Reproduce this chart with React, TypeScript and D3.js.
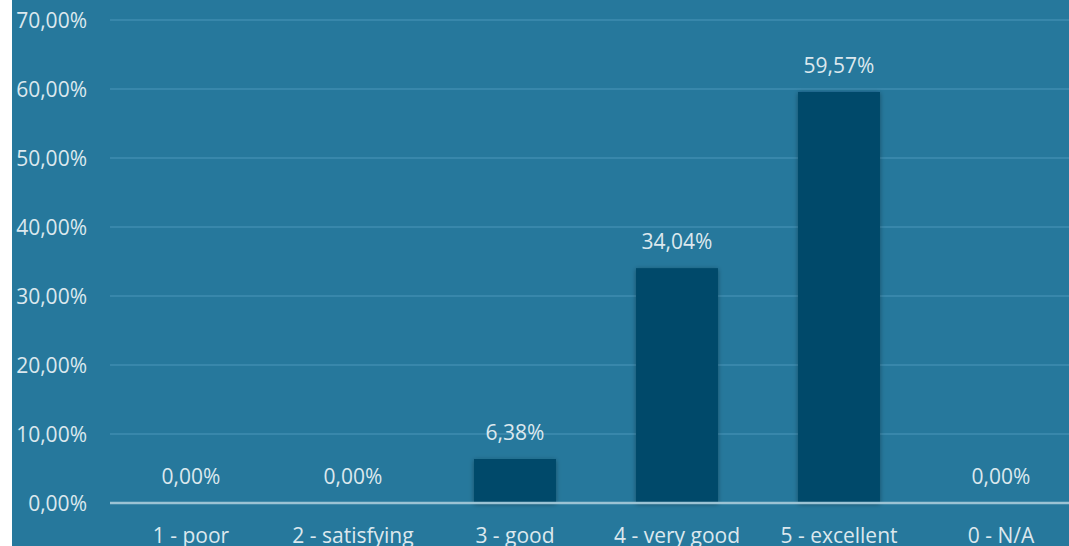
import React from "react";
import * as d3 from "d3";

const categories = ["1 - poor", "2 - satisfying", "3 - good", "4 - very good", "5 - excellent", "0 - N/A"];
const values = [0, 0, 6.38, 34.04, 59.57, 0];
const yTicks = [0, 10, 20, 30, 40, 50, 60, 70];

const W = 1069;
const H = 546;
const fmt = (v: number) => v.toFixed(2).replace(".", ",") + "%";

export default function App() {
  const x = d3.scaleBand<string>().domain(categories).range([110, 1082]).paddingInner(0.494).paddingOuter(0.247);
  const y = d3.scaleLinear().domain([0, 70]).range([503, 20]);
  const font = "'Open Sans', sans-serif";
  const txt = "#DCE8EE";
  const fs = 21;
  return (
    <svg width={W} height={H} style={{ position: "absolute", left: 0, top: 0 }}>
      <defs>
        <filter id="sh" x="-30%" y="-30%" width="160%" height="160%">
          <feDropShadow dx="0" dy="1" stdDeviation="2.5" floodColor="#000" floodOpacity="0.35" />
        </filter>
      </defs>
      <rect x={12} y={0} width={W - 12} height={H} fill="#26789C" />
      {yTicks.map((t) => (
        <g key={t}>
          {t > 0 && <line x1={110} x2={W} y1={y(t)} y2={y(t)} stroke="#3F8DB0" strokeWidth={1.5} />}
          <text x={87} y={y(t)} dy="0.36em" textAnchor="end" fill={txt} fontFamily={font} fontSize={fs}>
            {fmt(t)}
          </text>
        </g>
      ))}
      {categories.map((c, i) => (
        <g key={c}>
          {values[i] > 0 && (
            <rect x={x(c)} y={y(values[i])} width={x.bandwidth()} height={y(0) - y(values[i])} fill="#064A6A" filter="url(#sh)" />
          )}
          <text x={(x(c) as number) + x.bandwidth() / 2} y={y(values[i]) - 19} textAnchor="middle" fill={txt} fontFamily={font} fontSize={fs}>
            {fmt(values[i])}
          </text>
          <text x={(x(c) as number) + x.bandwidth() / 2} y={543} textAnchor="middle" fill={txt} fontFamily={font} fontSize={fs}>
            {c}
          </text>
        </g>
      ))}
      <line x1={110} x2={W} y1={y(0)} y2={y(0)} stroke="#9CC3D4" strokeWidth={2.5} />
    </svg>
  );
}
